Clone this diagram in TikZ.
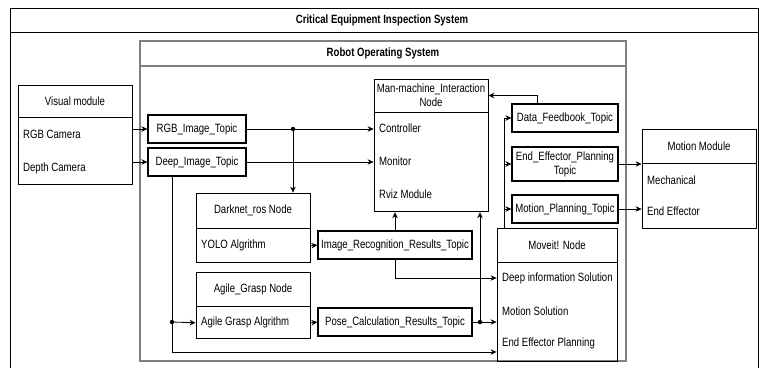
\documentclass[tikz,border=0pt]{standalone}
\usepackage{fontspec}
\setmainfont{Liberation Sans}[FakeStretch=0.8]
\usetikzlibrary{positioning,arrows.meta}

\tikzset{
  hdr/.style={draw,line width=0.8pt,minimum width=114pt,minimum height=34pt,inner sep=1pt,align=center},
  body/.style={draw,line width=0.8pt,minimum width=114pt,below=0pt of #1},
  topic/.style={draw,line width=1.2pt,minimum height=28pt,inner sep=1pt,align=center},
  item/.style={anchor=west,inner sep=0pt},
  dot/.style={circle,fill,inner sep=0pt,minimum size=4.5pt},
  flow/.style={->,line width=0.8pt},
  wire/.style={line width=0.8pt},
  rosline/.style={draw=black!50,line width=1.6pt}
}

\begin{document}
\begin{tikzpicture}[x=1pt,y=-1pt,>={Stealth[length=6pt,width=5.5pt]},font=\fontsize{12}{14}\selectfont]
  \useasboundingbox (0,0) rectangle (759,367);
  \clip (0,0) rectangle (759,367);

  % outer frame
  \draw[line width=0.8pt] (10,8) rectangle (758,420);
  \draw[line width=0.8pt] (10,32) -- (758,32);
  \node[font=\bfseries\fontsize{12}{14}\selectfont] (sys) at (382,20) {Critical Equipment Inspection System};

  % ros frame
  \draw[rosline] (140,41) rectangle (626,361);
  \draw[rosline] (140,66) -- (626,66);
  \node[font=\bfseries\fontsize{12}{14}\selectfont] (ros) at (383,53.5) {Robot Operating System};

  % visual module
  \node[hdr,minimum height=32pt] (vis) at (75,101) {Visual module};
  \node[body=vis,minimum height=67pt] (visb) {};
  \node[item] (rgbcam) at (23,134) {RGB Camera};
  \node[item] (depcam) at (23,168) {Depth Camera};

  % topics from camera
  \node[topic,minimum width=98pt] (rgbt) at (197,129) {RGB\_Image\_Topic};
  \node[topic,minimum width=98pt] (deept) at (197,162) {Deep\_Image\_Topic};

  % man-machine node
  \node[hdr,minimum height=33pt] (mm) at (431,95.5) {Man-machine\_Interaction\\Node};
  \node[body=mm,minimum height=99pt] (mmb) {};
  \node[item] (ctrl) at (379,128) {Controller};
  \node[item] (mon) at (379,161) {Monitor};
  \node[item] (rviz) at (379,194) {Rviz Module};

  % darknet and agile grasp
  \node[hdr,minimum height=35pt] (dark) at (253,210.5) {Darknet\_ros Node};
  \node[body=dark,minimum height=34pt] (darkb) {};
  \node[item] (yolo) at (201,245) {YOLO Algrithm};
  \node[hdr] (agile) at (253,289) {Agile\_Grasp Node};
  \node[body=agile,minimum height=32pt] (agileb) {};
  \node[item] (agalg) at (201,322) {Agile Grasp Algrithm};

  \node[topic,minimum width=154pt] (imgt) at (395,245) {Image\_Recognition\_Results\_Topic};
  \node[topic,minimum width=154pt] (poset) at (395,322) {Pose\_Calculation\_Results\_Topic};

  % moveit node
  \node[hdr,minimum width=120pt] (moveit) at (557,245) {Moveit! Node};
  \node[body=moveit,minimum width=120pt,minimum height=99pt] (moveitb) {};
  \node[item] (deepsol) at (502,278) {Deep information Solution};
  \node[item] (motsol) at (502,311) {Motion Solution};
  \node[item] (effpl) at (502,343) {End Effector Planning};

  % planning topics
  \node[topic,minimum width=106pt] (datat) at (565,118) {Data\_Feedbook\_Topic};
  \node[topic,minimum width=106pt,minimum height=34pt] (endt) at (565,164) {End\_Effector\_Planning\\Topic};
  \node[topic,minimum width=106pt] (motiont) at (565,209) {Motion\_Planning\_Topic};

  % motion module
  \node[hdr] (motmod) at (699,146) {Motion Module};
  \node[body=motmod,minimum height=65pt] (motmodb) {};
  \node[item] (mech) at (647,180) {Mechanical};
  \node[item] (endeff) at (647,211) {End Effector};

  % junctions
  \node[dot] (j1) at (293,129) {};
  \node[dot] (j2) at (172,322) {};
  \node[dot] (j3) at (480,322) {};
  \coordinate (c1) at (172,352);
  \coordinate (bus) at (504,228);

  % connectors
  \draw[flow] (visb.east |- rgbt) -- (rgbt.west);
  \draw[flow] (visb.east |- deept) -- (deept.west);
  \draw[flow] (rgbt.east) -- (mmb.west |- rgbt);
  \draw[flow] (deept.east) -- (mmb.west |- deept);
  \draw[flow] (j1) -- (j1 |- dark.north);
  \draw[wire] (j2 |- deept.south) -- (j2);
  \draw[flow] (j2) -- (agileb.west);
  \draw[flow] (j2) -- (c1) -- (c1 -| moveitb.west);
  \draw[flow] (darkb.east) -- (imgt.west);
  \draw[flow] (imgt.north) -- (imgt.north |- mmb.south);
  \draw[flow] (imgt.south) |- (moveitb.west |- deepsol);
  \draw[flow] (agileb.east) -- (poset.west);
  \draw[wire] (poset.east) -- (j3);
  \draw[flow] (j3) -- (j3 -| moveitb.west);
  \draw[flow] (j3) -- (j3 |- mmb.south);
  \draw[wire] (bus) -- (bus |- datat);
  \draw[flow] (bus |- datat) -- (datat.west);
  \draw[flow] (bus |- endt) -- (endt.west);
  \draw[flow] (bus |- motiont) -- (motiont.west);
  \draw[flow] ([xshift=-28pt]datat.north) |- (mm.east);
  \draw[flow] (endt.east) -- (motmodb.west |- endt);
  \draw[flow] (motiont.east) -- (motmodb.west |- motiont);
\end{tikzpicture}
\end{document}
